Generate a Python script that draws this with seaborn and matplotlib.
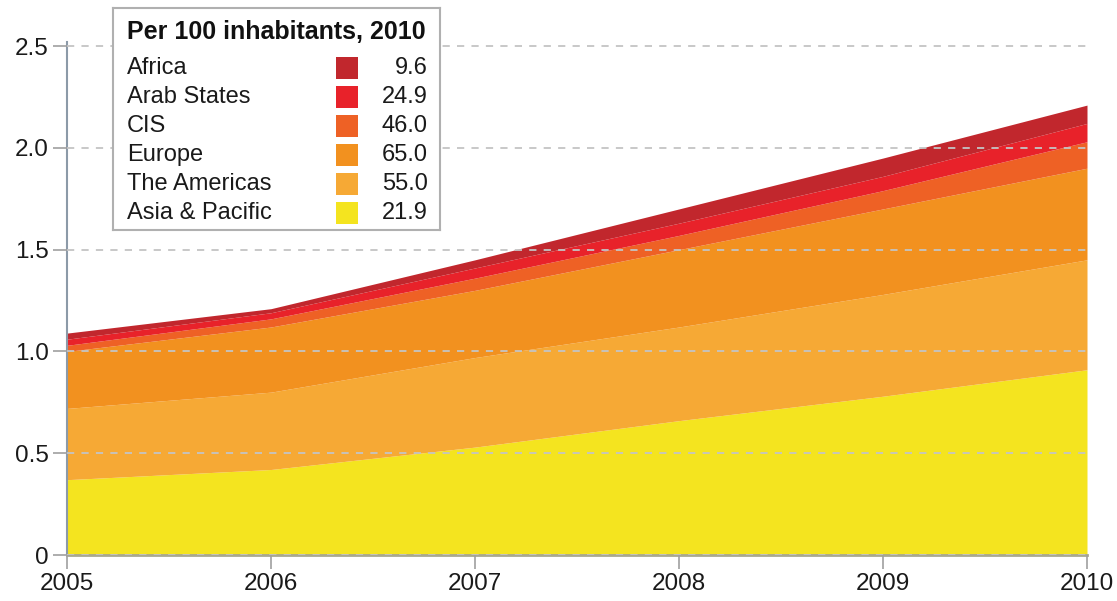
import matplotlib
matplotlib.use("Agg")
import matplotlib.pyplot as plt
import seaborn as sns
from matplotlib.patches import Rectangle

# Data (billions, stacked layers)
years = [2005, 2006, 2007, 2008, 2009, 2010]
asia_pacific = [0.37, 0.42, 0.53, 0.66, 0.78, 0.91]
americas = [0.35, 0.38, 0.44, 0.46, 0.50, 0.54]
europe = [0.28, 0.32, 0.33, 0.38, 0.42, 0.45]
cis = [0.03, 0.04, 0.06, 0.07, 0.09, 0.13]
arab_states = [0.03, 0.03, 0.05, 0.06, 0.07, 0.09]
africa = [0.03, 0.02, 0.04, 0.07, 0.09, 0.09]

# Legend: per 100 inhabitants, 2010 (top to bottom)
legend_regions = ["Africa", "Arab States", "CIS", "Europe", "The Americas", "Asia & Pacific"]
legend_values = [9.6, 24.9, 46.0, 65.0, 55.0, 21.9]
legend_title = "Per 100 inhabitants, 2010"

yticks = [0, 0.5, 1.0, 1.5, 2.0, 2.5]
ytick_labels = ["0", "0.5", "1.0", "1.5", "2.0", "2.5"]

# colours bottom -> top
colors = sns.color_palette(["#F4E41F", "#F6A935", "#F2911F", "#EE6125", "#E8222A", "#C1272D"])

sns.set_theme(style="white")
plt.rcParams["font.family"] = ["Liberation Sans", "DejaVu Sans"]

fig = plt.figure(figsize=(11.17, 6.01), dpi=100)
ax = fig.add_axes([67 / 1117, 46 / 601, 1020 / 1117, 513 / 601])

ax.stackplot(years, asia_pacific, americas, europe, cis, arab_states, africa,
             colors=colors, linewidth=0)

ax.set_xlim(2005, 2010)
ax.set_ylim(0, 2.52)
ax.set_xticks(years)
ax.set_xticklabels([str(y) for y in years])
ax.set_yticks(yticks)
ax.set_yticklabels(ytick_labels)

ax.yaxis.grid(True, linestyle=(0, (4, 4)), color="#c4c4c4", linewidth=1.3)
ax.xaxis.grid(False)
ax.set_axisbelow(False)

for side in ["top", "right"]:
    ax.spines[side].set_visible(False)
ax.spines["left"].set_color("#8c9aa8")
ax.spines["left"].set_linewidth(1.5)
ax.spines["bottom"].set_color("#a8a890")
ax.spines["bottom"].set_linewidth(2)

ax.tick_params(axis="both", which="major", length=10, width=1.2, color="#a0a0a0",
               labelsize=17.5, labelcolor="#1a1a1a", bottom=True, left=True, pad=3)

# Legend box drawn as an inset axes in pixel coordinates
lx0, ly0, lw, lh = 113, 8, 327, 222
lax = fig.add_axes([lx0 / 1117, 1 - (ly0 + lh) / 601, lw / 1117, lh / 601])
lax.set_xlim(0, lw)
lax.set_ylim(lh, 0)
lax.set_xticks([])
lax.set_yticks([])
lax.set_facecolor("white")
for sp in lax.spines.values():
    sp.set_color("#b0b0b0")
    sp.set_linewidth(1.5)

lax.text(14, 24, legend_title, fontsize=18, fontweight="bold", color="#111111", va="center")
for i, (name, val) in enumerate(zip(legend_regions, legend_values)):
    yc = 60 + i * 29
    lax.text(14, yc, name, fontsize=17, color="#1a1a1a", va="center")
    lax.add_patch(Rectangle((223, yc - 11), 22, 22, color=colors[len(colors) - 1 - i], lw=0))
    lax.text(315, yc, f"{val:.1f}", fontsize=17, color="#1a1a1a", va="center", ha="right")

fig.savefig("out.png", dpi=100)
